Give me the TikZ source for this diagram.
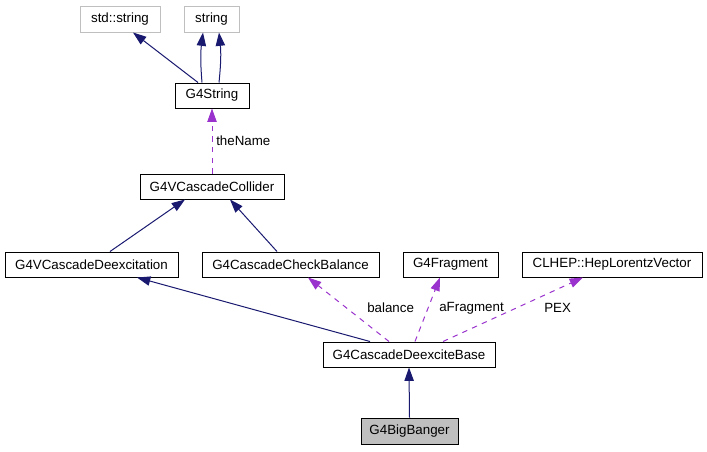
\documentclass[tikz,border=0pt]{standalone}
\usepackage{fontspec}
\setmainfont{Liberation Sans}
\usetikzlibrary{arrows.meta,calc}
\definecolor{inh}{HTML}{191970}
\definecolor{use}{HTML}{9A32CD}
\definecolor{grayb}{HTML}{BFBFBF}
\tikzset{
  box/.style={draw=black,line width=0.75pt,fill=white,inner sep=0pt,minimum height=18.75pt,font=\fontsize{10}{12}\selectfont},
  extbox/.style={box,draw=grayb},
  inhedge/.style={draw=inh,line width=0.75pt,-{Triangle[length=10pt,width=7pt]}},
  useedge/.style={draw=use,line width=0.75pt,dash pattern=on 4pt off 4pt,-{Triangle[length=10pt,width=7pt]}},
  lbl/.style={anchor=west,inner sep=0pt,font=\fontsize{10}{12}\selectfont}
}
\begin{document}
\begin{tikzpicture}[x=0.75pt,y=-0.75pt]
\useasboundingbox (0,0) rectangle (707,451);
\node[extbox,minimum width=60pt,minimum height=19.5pt] (stdstr) at (120,19) {std::string};
\node[extbox,minimum width=41.25pt,minimum height=19.5pt] (str) at (211.5,19) {string};
\node[box,minimum width=55.5pt] (g4s) at (212,95.5) {G4String};
\node[box,minimum width=108pt] (coll) at (212,186.5) {G4VCascadeCollider};
\node[box,minimum width=129.75pt] (deex) at (91.5,264.5) {G4VCascadeDeexcitation};
\node[box,minimum width=132.75pt] (check) at (290.5,264.5) {G4CascadeCheckBalance};
\node[box,minimum width=71.25pt] (frag) at (450.5,264.5) {G4Fragment};
\node[box,minimum width=135pt] (clhep) at (612,264.5) {CLHEP::HepLorentzVector};
\node[box,minimum width=129pt] (dbase) at (409,354.5) {G4CascadeDeexciteBase};
\node[box,fill=grayb,minimum width=72.75pt,minimum height=19.5pt] (bb) at (409.5,431) {G4BigBanger};

\draw[inhedge] ($(g4s.north)+(-14,0)$) -- ($(stdstr.south)+(13,0)$);
\draw[inhedge] ($(g4s.north)+(-10,0)$) to[bend left=6] ($(str.south)+(-8.5,0)$);
\draw[inhedge] ($(g4s.north)+(7,0)$) to[bend right=6] ($(str.south)+(7.5,0)$);
\draw[useedge] (coll.north) -- (g4s.south);
\node[lbl] (lname) at (216,141) {theName};
\draw[inhedge] ($(deex.north)+(18.5,0)$) -- ($(coll.south)+(-27,0)$);
\draw[inhedge] ($(check.north)+(-13.5,0)$) -- ($(coll.south)+(18,0)$);
\draw[inhedge] ($(dbase.north)+(-39,0)$) -- ($(deex.south)+(45.5,0)$);
\draw[useedge] ($(dbase.north)+(-20,0)$) -- ($(check.south)+(17.5,0)$);
\node[lbl] (lbal) at (367,308) {balance};
\draw[useedge] ($(dbase.north)+(6,0)$) -- ($(frag.south)+(-10.5,0)$);
\node[lbl] (lfrag) at (439,308) {aFragment};
\draw[useedge] ($(dbase.north)+(34,0)$) -- ($(clhep.south)+(-29,0)$);
\node[lbl] (lpex) at (544,308) {PEX};
\draw[inhedge] (bb.north) -- (dbase.south);
\end{tikzpicture}
\end{document}
